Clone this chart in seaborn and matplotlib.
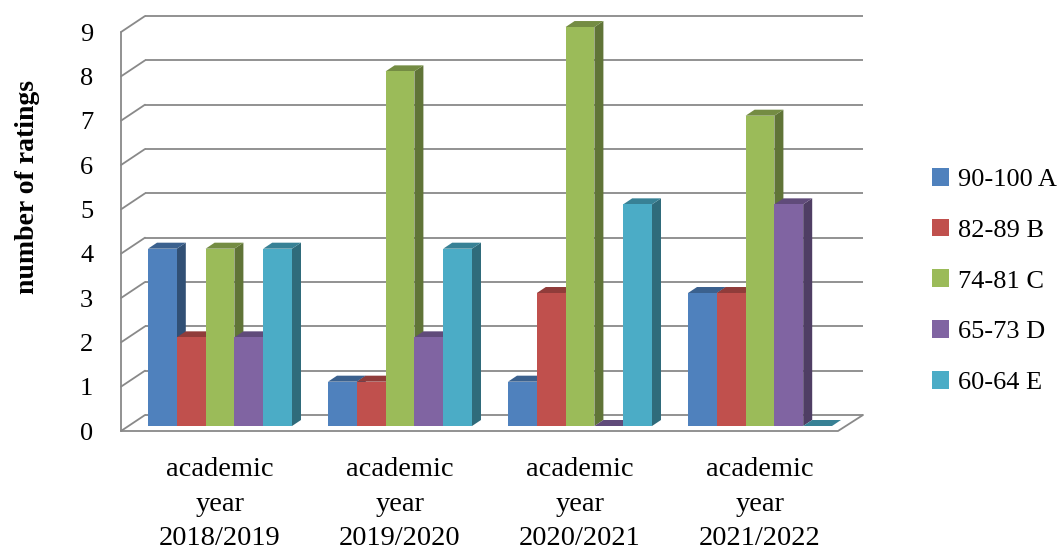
import matplotlib
matplotlib.use("Agg")
import matplotlib.pyplot as plt
import seaborn as sns
import pandas as pd
import numpy as np
from matplotlib.patches import Polygon
from matplotlib.colors import to_rgb

years = ["academic\nyear\n2018/2019", "academic\nyear\n2019/2020",
         "academic\nyear\n2020/2021", "academic\nyear\n2021/2022"]
grades = ["90-100 A", "82-89 B", "74-81 C", "65-73 D", "60-64 E"]
grade_a = [4, 1, 1, 3]
grade_b = [2, 1, 3, 3]
grade_c = [4, 8, 9, 7]
grade_d = [2, 2, 0, 5]
grade_e = [4, 4, 5, 0]
colors = ["#4F81BD", "#C0504D", "#9BBB59", "#8064A2", "#4BACC6"]
y_ticks = list(range(0, 10))

sns.set_theme(style="white")
plt.rcParams["font.family"] = ["Liberation Serif", "DejaVu Serif"]
plt.rcParams["text.color"] = "black"
plt.rcParams["xtick.color"] = "black"
plt.rcParams["ytick.color"] = "black"
plt.rcParams["xtick.labelcolor"] = "black"
plt.rcParams["ytick.labelcolor"] = "black"
FS = 19

rows = []
for g, vals in zip(grades, [grade_a, grade_b, grade_c, grade_d, grade_e]):
    for y, v in zip(years, vals):
        rows.append({"year": y, "grade": g, "count": v})
df = pd.DataFrame(rows)

W, H = 1062, 552
fig = plt.figure(figsize=(W / 100, H / 100), dpi=100)

X0, SX, Y0, SY = 220.0, 180.0, 426.0, 44.33
def px_x(p): return (p - X0) / SX
def px_y(p): return (Y0 - p) / SY

L, R, B, T = 121, 863, 431, 16
ax = fig.add_axes([L / W, (H - B) / H, (R - L) / W, (B - T) / H])

sns.barplot(data=df, x="year", y="count", hue="grade", hue_order=grades,
            palette=colors, order=years, width=0.8, ax=ax,
            saturation=1, legend=False, edgecolor="none", linewidth=0)
ax.set_xlim(px_x(L), px_x(R))
ax.set_ylim(px_y(B), px_y(T))

grid_c = "#898989"
glw = 1.3
for k in y_ticks:
    fy = 431 - SY * k
    by = fy - 16
    ax.plot([px_x(145), px_x(863)], [px_y(by), px_y(by)], color=grid_c,
            lw=glw, zorder=1, clip_on=False, solid_capstyle="butt")
    ax.plot([px_x(121), px_x(145)], [px_y(fy), px_y(by)], color=grid_c,
            lw=glw, zorder=1, clip_on=False)
ax.plot([px_x(121), px_x(121)], [px_y(431), px_y(431 - SY * 9)],
        color=grid_c, lw=glw, zorder=1, clip_on=False)
ax.plot([px_x(121), px_x(838), px_x(863)], [px_y(431), px_y(431), px_y(415)],
        color=grid_c, lw=glw, zorder=2, clip_on=False)

ddx = 9 / SX
ddy = 6 / SY
patches = sorted(list(ax.patches), key=lambda p: p.get_x())
for i, p in enumerate(patches):
    x, w, h = p.get_x(), p.get_width(), p.get_height()
    c = np.array(to_rgb(p.get_facecolor()))
    z = 3 + i * 0.01
    p.set_zorder(z + 0.005)
    p.set_clip_on(False)
    side = Polygon([(x + w, 0), (x + w + ddx, ddy), (x + w + ddx, h + ddy), (x + w, h)],
                   closed=True, facecolor=c * 0.62, edgecolor="none", zorder=z, clip_on=False)
    top = Polygon([(x, h), (x + w, h), (x + w + ddx, h + ddy), (x + ddx, h + ddy)],
                  closed=True, facecolor=c * 0.75, edgecolor="none", zorder=z, clip_on=False)
    ax.add_patch(side)
    ax.add_patch(top)

for s in ax.spines.values():
    s.set_visible(False)

ax.set_yticks([k - 5 / SY for k in y_ticks])
ax.set_yticklabels([str(k) for k in y_ticks], fontsize=FS, color="black")
ax.set_xticks(range(len(years)))
ax.set_xticklabels(years, fontsize=20.5, linespacing=1.5, color="black")
ax.tick_params(axis="y", length=0, pad=20)
ax.tick_params(axis="x", length=0, pad=19)
ax.set_xlabel("")
ax.set_ylabel("")
ax.grid(False)

fig.text(28 / W, (H - 187) / H, "number of ratings", rotation=90,
         fontsize=20, fontweight="bold", ha="center", va="center", color="black")

handles = [plt.Rectangle((0, 0), 1, 1, facecolor=c, edgecolor="none") for c in colors]
leg = fig.legend(handles, grades, loc="center left",
                 bbox_to_anchor=(932 / W, (H - 281) / H), frameon=False,
                 fontsize=FS, handlelength=0.65, handleheight=0.65,
                 handletextpad=0.35, labelspacing=1.05, borderpad=0, borderaxespad=0)
for t in leg.get_texts():
    t.set_color("black")

fig.savefig("out.png", dpi=100)
